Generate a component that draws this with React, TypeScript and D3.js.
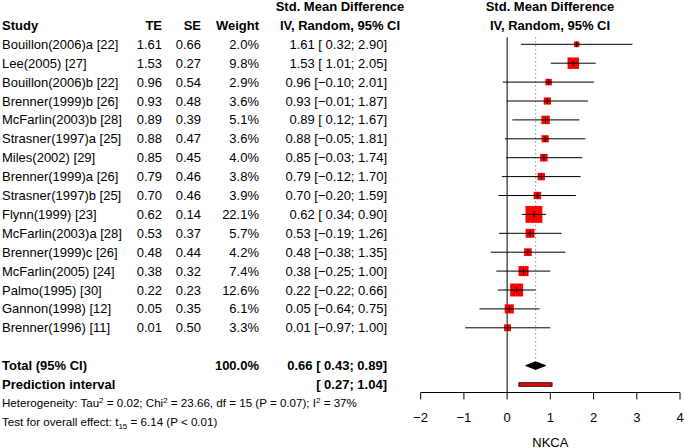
import React from "react";
import * as d3 from "d3";

const studies = [
  "Bouillon(2006)a [22]", "Lee(2005) [27]", "Bouillon(2006)b [22]", "Brenner(1999)b [26]",
  "McFarlin(2003)b [28]", "Strasner(1997)a [25]", "Miles(2002) [29]", "Brenner(1999)a [26]",
  "Strasner(1997)b [25]", "Flynn(1999) [23]", "McFarlin(2003)a [28]", "Brenner(1999)c [26]",
  "McFarlin(2005) [24]", "Palmo(1995) [30]", "Gannon(1998) [12]", "Brenner(1996) [11]",
];
const te = [1.61, 1.53, 0.96, 0.93, 0.89, 0.88, 0.85, 0.79, 0.70, 0.62, 0.53, 0.48, 0.38, 0.22, 0.05, 0.01];
const se = [0.66, 0.27, 0.54, 0.48, 0.39, 0.47, 0.45, 0.46, 0.46, 0.14, 0.37, 0.44, 0.32, 0.23, 0.35, 0.50];
const weight = [2.0, 9.8, 2.9, 3.6, 5.1, 3.6, 4.0, 3.8, 3.9, 22.1, 5.7, 4.2, 7.4, 12.6, 6.1, 3.3];
const ciLow = [0.32, 1.01, -0.10, -0.01, 0.12, -0.05, -0.03, -0.12, -0.20, 0.34, -0.19, -0.38, -0.25, -0.22, -0.64, -0.97];
const ciHigh = [2.90, 2.05, 2.01, 1.87, 1.67, 1.81, 1.74, 1.70, 1.59, 0.90, 1.26, 1.35, 1.00, 0.66, 0.75, 1.00];

const pooled = { est: 0.66, lo: 0.43, hi: 0.89 };
const predInt = { lo: 0.27, hi: 1.04 };
const xTicks = [-2, -1, 0, 1, 2, 3, 4];

const W = 685;
const H = 448;
const FONT = "'Liberation Sans', Arial, Helvetica, sans-serif";

const fmt = (v: number) => (v < 0 ? "\u2212" + Math.abs(v).toFixed(2) : " " + v.toFixed(2));

export default function App() {
  // row index -> vertical center
  const row = d3.scaleLinear().domain([0, 1]).range([6.5, 25.4]);
  const x = d3.scaleLinear().domain([-2, 4]).range([420.7, 680]);
  const side = d3.scaleSqrt().domain([0, 22.1]).range([0, 16.3]);

  const firstRow = 2;
  const totalRow = firstRow + studies.length + 1;
  const axisY = 392.5;

  const colTE = 162;
  const colSE = 201;
  const colW = 259;
  const colCI = 387;

  const txt = { fontFamily: FONT, fontSize: 13, fill: "#000" };

  const diamond = d3.line<[number, number]>()([
    [x(pooled.lo), row(totalRow)],
    [x(pooled.est), row(totalRow) - 3.8],
    [x(pooled.hi), row(totalRow)],
    [x(pooled.est), row(totalRow) + 3.8],
  ]) + "Z";

  return (
    <svg width={W} height={H} style={{ position: "absolute", left: 0, top: 0, background: "#fff" }}>
      {/* headers */}
      <g {...txt} fontWeight="bold" dominantBaseline="central">
        <text x={340} y={row(0)} textAnchor="middle">Std. Mean Difference</text>
        <text x={2} y={row(1)}>Study</text>
        <text x={colTE} y={row(1)} textAnchor="end">TE</text>
        <text x={colSE} y={row(1)} textAnchor="end">SE</text>
        <text x={colW} y={row(1)} textAnchor="end">Weight</text>
        <text x={340} y={row(1)} textAnchor="middle">IV, Random, 95% CI</text>
        <text x={550} y={row(0)} textAnchor="middle">Std. Mean Difference</text>
        <text x={550} y={row(1)} textAnchor="middle">IV, Random, 95% CI</text>
      </g>

      {/* study rows */}
      <g {...txt} dominantBaseline="central">
        {studies.map((s, i) => {
          const y = row(firstRow + i);
          return (
            <g key={s}>
              <text x={2} y={y}>{s}</text>
              <text x={colTE} y={y} textAnchor="end">{te[i].toFixed(2)}</text>
              <text x={colSE} y={y} textAnchor="end">{se[i].toFixed(2)}</text>
              <text x={colW} y={y} textAnchor="end">{weight[i].toFixed(1)}%</text>
              <text x={colCI} y={y} textAnchor="end" style={{ whiteSpace: "pre" }}>
                {`${te[i].toFixed(2)} [${fmt(ciLow[i])}; ${ciHigh[i].toFixed(2)}]`}
              </text>
            </g>
          );
        })}
      </g>

      {/* totals */}
      <g {...txt} fontWeight="bold" dominantBaseline="central">
        <text x={2} y={row(totalRow)}>Total (95% CI)</text>
        <text x={colW} y={row(totalRow)} textAnchor="end">100.0%</text>
        <text x={colCI} y={row(totalRow)} textAnchor="end" style={{ whiteSpace: "pre" }}>
          {`${pooled.est.toFixed(2)} [${fmt(pooled.lo)}; ${pooled.hi.toFixed(2)}]`}
        </text>
        <text x={2} y={row(totalRow + 1)}>Prediction interval</text>
        <text x={colCI} y={row(totalRow + 1)} textAnchor="end" style={{ whiteSpace: "pre" }}>
          {`[${fmt(predInt.lo)}; ${predInt.hi.toFixed(2)}]`}
        </text>
      </g>
      <g fontFamily={FONT} fontSize={11.6} fill="#000">
        <text x={2} y={row(totalRow + 2) + 4}>
          Heterogeneity: Tau<tspan dy={-4.5} fontSize={8}>2</tspan>
          <tspan dy={4.5}> = 0.02; Chi</tspan><tspan dy={-4.5} fontSize={8}>2</tspan>
          <tspan dy={4.5}> = 23.66, df = 15 (P = 0.07); I</tspan><tspan dy={-4.5} fontSize={8}>2</tspan>
          <tspan dy={4.5}> = 37%</tspan>
        </text>
        <text x={2} y={row(totalRow + 3) + 4}>
          Test for overall effect: t<tspan dy={3} fontSize={8}>15</tspan>
          <tspan dy={-3}> = 6.14 (P &lt; 0.01)</tspan>
        </text>
      </g>

      {/* forest plot */}
      <line x1={x(0)} x2={x(0)} y1={row(firstRow) - 7} y2={axisY} stroke="#000" strokeWidth={1} />
      <line x1={x(pooled.est)} x2={x(pooled.est)} y1={row(firstRow) - 7} y2={row(totalRow) - 4}
        stroke="#555" strokeWidth={1} strokeDasharray="1,3" />
      {studies.map((s, i) => {
        const y = row(firstRow + i);
        const sz = side(weight[i]) + 0.6;
        return (
          <g key={s}>
            <rect x={x(te[i]) - sz / 2} y={y - sz / 2} width={sz} height={sz} fill="#ff0000" />
            <line x1={x(ciLow[i])} x2={x(ciHigh[i])} y1={y} y2={y} stroke="#000" strokeWidth={1} />
            <line x1={x(te[i])} x2={x(te[i])} y1={y - 3} y2={y + 3} stroke="#000" strokeWidth={1} />
          </g>
        );
      })}
      <path d={diamond} fill="#000" stroke="#000" />
      <rect x={x(predInt.lo)} y={row(totalRow + 1) - 1.8} width={x(predInt.hi) - x(predInt.lo)} height={3.6}
        fill="#ee0000" stroke="#000" strokeWidth={0.8} />

      {/* axis */}
      <g>
        <line x1={x(-2)} x2={x(4)} y1={axisY} y2={axisY} stroke="#000" />
        {xTicks.map((t) => (
          <g key={t}>
            <line x1={x(t)} x2={x(t)} y1={axisY} y2={axisY + 7} stroke="#000" />
            <text x={x(t)} y={axisY + 25} textAnchor="middle" dominantBaseline="central" {...txt}>
              {t < 0 ? "\u2212" + Math.abs(t) : String(t)}
            </text>
          </g>
        ))}
        <text x={x(1)} y={442} textAnchor="middle" dominantBaseline="central" {...txt}>NKCA</text>
      </g>
    </svg>
  );
}
